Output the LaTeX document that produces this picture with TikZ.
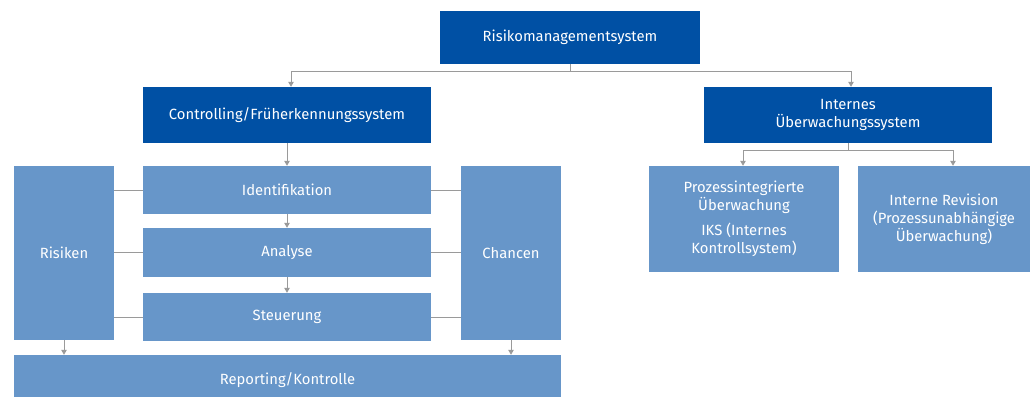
\documentclass[tikz,border=0pt]{standalone}
\usepackage{fontspec}
\setmainfont{Fira Sans}
\usetikzlibrary{arrows.meta}
\definecolor{darkblue}{HTML}{0050A4}
\definecolor{lightblue}{HTML}{6796C9}
\definecolor{linegray}{HTML}{9A9A9A}
\tikzset{
  dark/.style={fill=darkblue, text=white, inner sep=0pt, align=center, font=\fontsize{14.8}{18}\selectfont},
  light/.style={fill=lightblue, text=white, inner sep=0pt, align=center, font=\fontsize{14.8}{18}\selectfont},
}
\begin{document}
\begin{tikzpicture}[x=1pt, y=-1pt]
      \useasboundingbox (0,0) rectangle (1030,396);
      \draw
        (570,37.5) node[dark, minimum width=260pt, minimum height=53pt] (rms){Risikomanagementsystem}
        (287,115) node[dark, minimum width=288pt, minimum height=56pt] (ctrl){Controlling/Früherkennungssystem}
        (848,115) node[dark, minimum width=288pt, minimum height=56pt] (ius){Internes\\Überwachungssystem}
        (64,253) node[light, minimum width=100pt, minimum height=174pt] (ris){Risiken}
        (287,190) node[light, minimum width=288pt, minimum height=48pt] (ident){Identifikation}
        (287,252.5) node[light, minimum width=288pt, minimum height=49pt] (ana){Analyse}
        (287,317) node[light, minimum width=288pt, minimum height=48pt] (steu){Steuerung}
        (511,253) node[light, minimum width=100pt, minimum height=174pt] (cha){Chancen}
        (287.5,380) node[light, minimum width=547pt, minimum height=50pt] (rep){Reporting/Kontrolle}
        (744,219) node[light, minimum width=190pt, minimum height=106pt] (pro){Prozessintegrierte\\Überwachung\\[7pt]IKS (Internes\\Kontrollsystem)}
        (944,219) node[light, minimum width=172pt, minimum height=106pt] (rev){Interne Revision\\(Prozessunabhängige\\Überwachung)};
      \begin{scope}[draw=linegray, line width=1pt, -{Triangle[width=5.5pt,length=5pt]}]
        \draw (rms.south) -- ++(0,7) -| ([xshift=4pt]ctrl.north);
        \draw (rms.south) -- ++(0,7) -| ([xshift=3pt]ius.north);
        \draw (ctrl) -- (ident);
        \draw (ident) -- (ana);
        \draw (ana) -- (steu);
        \draw (ris) -- (ris |- rep.north);
        \draw (cha) -- (cha |- rep.north);
        \draw (ius.south) -- ++(0,7) -| ([xshift=-1pt]pro.north);
        \draw (ius.south) -- ++(0,7) -| ([xshift=9pt]rev.north);
      \end{scope}
      \begin{scope}[draw=linegray, line width=1pt, -]
        \draw (ris.east |- ident) -- (ident.west);
        \draw (ris.east |- ana) -- (ana.west);
        \draw (ris.east |- steu) -- (steu.west);
        \draw (ident.east) -- (cha.west |- ident);
        \draw (ana.east) -- (cha.west |- ana);
        \draw (steu.east) -- (cha.west |- steu);
      \end{scope}
    \end{tikzpicture}
\end{document}
